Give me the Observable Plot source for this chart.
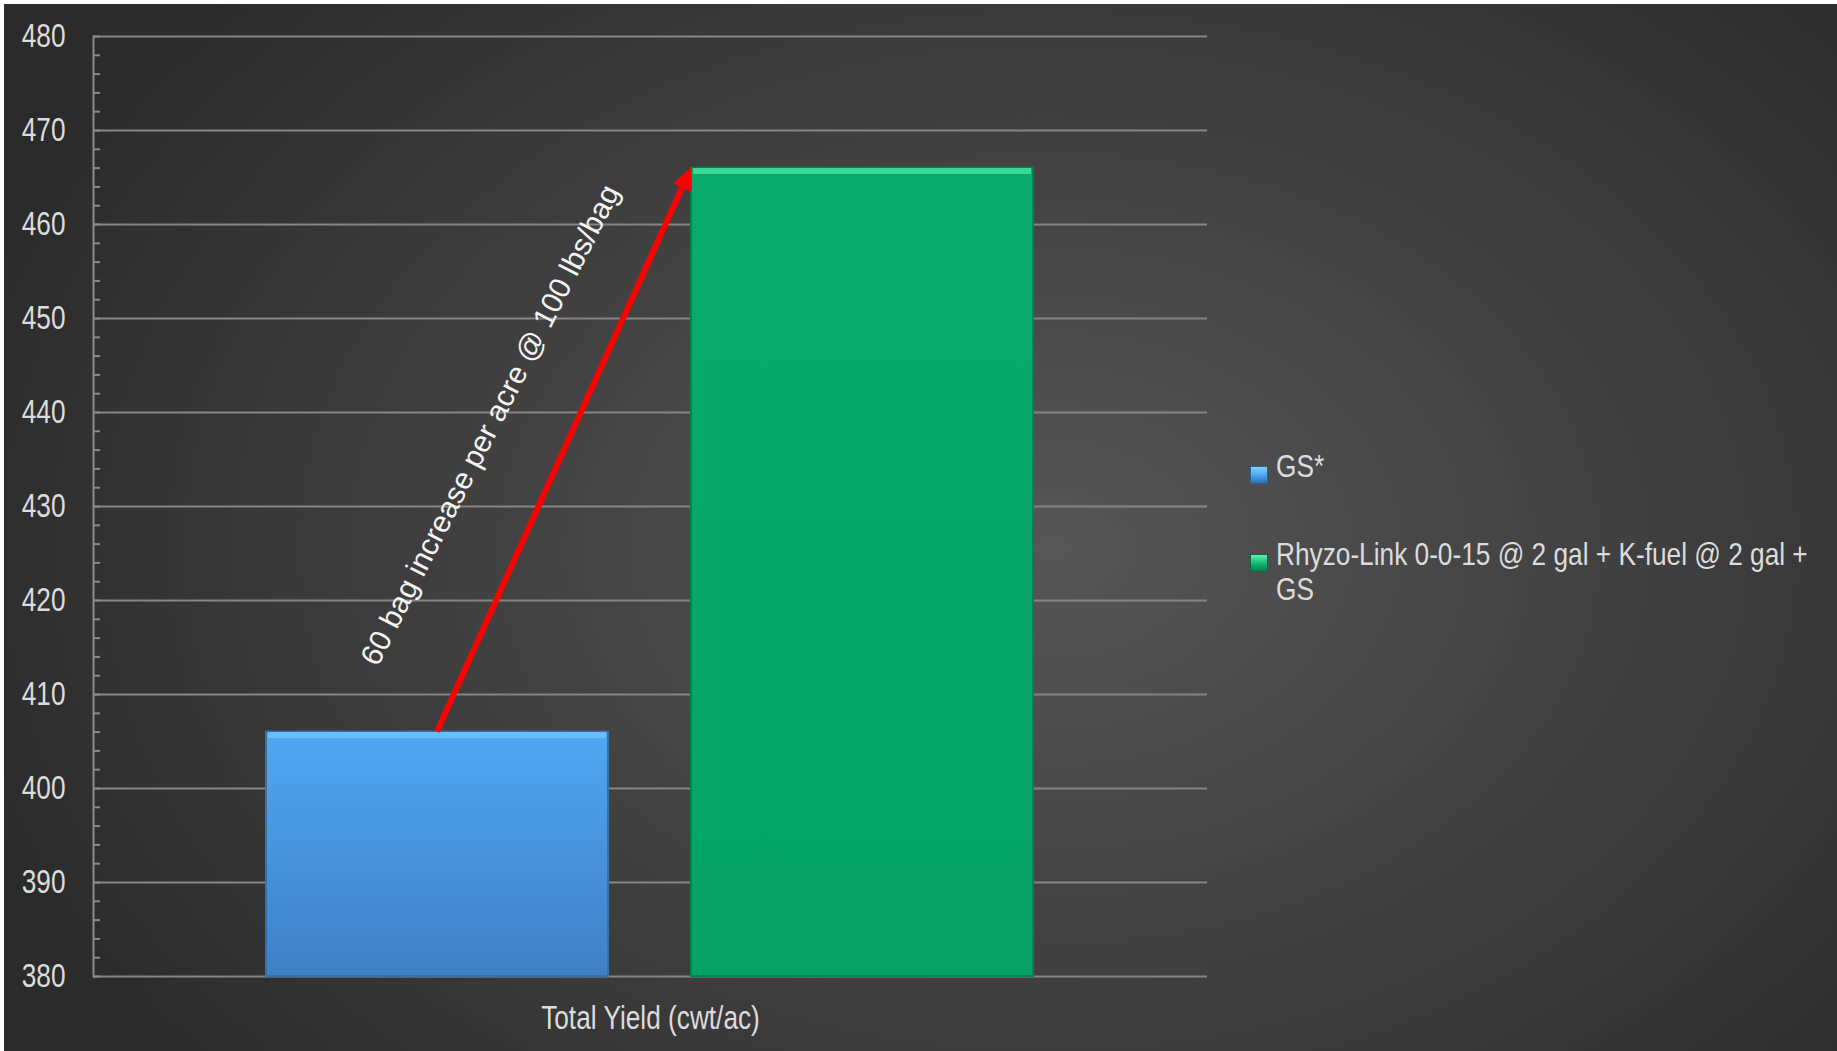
<!DOCTYPE html>
<html>
<head>
<meta charset="utf-8">
<script src="https://cdn.jsdelivr.net/npm/d3@7"></script>
<script src="https://cdn.jsdelivr.net/npm/@observablehq/plot@0.6"></script>
<style>
  html, body { margin: 0; padding: 0; background: #ffffff; width: 1837px; height: 1051px; overflow: hidden; }
  #bg { position: absolute; left: 4px; top: 4px; width: 1833px; height: 1047px;
        background: radial-gradient(ellipse 62% 78% at 57% 52%, #565656 0%, #474747 35%, #2b2b2b 100%); }
  #chart { position: absolute; left: 0; top: 0; }
  .legend { position: absolute; left: 1250px; font-family: "Liberation Sans", Arial, sans-serif;
            font-size: 32px; color: #dcdcdc; }
  .item { position: absolute; left: 0; display: flex; align-items: flex-start; }
  .sw { width: 18px; height: 18px; margin-right: 8px; box-sizing: border-box; flex: none; }
  .lbl { width: 665px; line-height: 35px; transform: scaleX(0.82); transform-origin: 0 0; }
</style>
</head>
<body>
<div id="bg"></div>
<div id="chart"></div>
<div class="legend" id="legend"></div>
<script>
// ---- data ----
const category = "Total Yield (cwt/ac)";
const series = ["GS*", "Rhyzo-Link 0-0-15 @ 2 gal + K-fuel @ 2 gal + GS"];
const values = [406, 466];
const yMajorTicks = [380, 390, 400, 410, 420, 430, 440, 450, 460, 470, 480];
const yMinorTicks = d3.range(380, 481, 2);
const annotation = "60 bag increase per acre @ 100 lbs/bag";

// ---- styling ----
const colors = ["url(#gBlue)", "url(#gGreen)"];
const edge = ["#3670ad", "#04824f"];
const hilite = ["#68bdfa", "#3bd797"];

const rows = series.map((s, i) => ({category, series: s, value: values[i], i}));

const arrowMark = (index, scales) => {
  const {x, y} = scales;
  const g = d3.create("svg:g");
  if (!x || !y) return g.node();
  const bw = x.bandwidth ? x.bandwidth() : 0;
  const x1 = x(series[0]) + bw / 2, y1 = y(values[0]);
  const x2 = x(series[1]), y2 = y(values[1]);
  const L = Math.hypot(x2 - x1, y2 - y1);
  const ux = (x2 - x1) / L, uy = (y2 - y1) / L;
  const head = 22, half = 10;
  const bx = x2 - ux * head, by = y2 - uy * head;
  g.append("line").attr("x1", x1).attr("y1", y1).attr("x2", bx).attr("y2", by)
    .attr("stroke", "#ff0000").attr("stroke-width", 6);
  g.append("polygon")
    .attr("points", [[x2, y2], [bx - uy * half, by + ux * half], [bx + uy * half, by - ux * half]].map(p => p.join(",")).join(" "))
    .attr("fill", "#ff0000");
  return g.node();
};

const chart = Plot.plot({
  width: 1837,
  height: 1051,
  marginLeft: 93,
  marginRight: 630,
  marginTop: 36,
  marginBottom: 75,
  style: {background: "transparent", fontFamily: "'Liberation Sans', Arial, sans-serif", fontSize: "32px", color: "#dcdcdc"},
  fx: {domain: [category], padding: 0, label: null, axis: "bottom", tickSize: 0, tickPadding: 28},
  x: {domain: series, paddingInner: 0.195, paddingOuter: 0.407, axis: null},
  y: {domain: [380, 480], clamp: true, axis: null},
  marks: [
    Plot.gridY(yMajorTicks, {stroke: "#858585", strokeOpacity: 1, strokeWidth: 2}),
    Plot.axisY(yMinorTicks, {tickSize: -7, text: null, label: null, stroke: "#8a8a8a", strokeWidth: 2}),
    Plot.axisY(yMajorTicks, {tickSize: 0, tickPadding: 28, label: null, fill: "#dcdcdc"}),
    Plot.frame({anchor: "left", stroke: "#8a8a8a", strokeWidth: 2}),
    Plot.barY(rows, {fx: "category", x: "series", y: "value", fill: d => colors[d.i], stroke: d => edge[d.i], strokeWidth: 2}),
    Plot.tickY(rows, {fx: "category", x: "series", y: "value", stroke: d => hilite[d.i], strokeWidth: 6, dy: 3, insetLeft: 2, insetRight: 2}),
    arrowMark,
    Plot.text([annotation], {x: () => series[0], y: () => d3.mean(values), text: d => d, rotate: -63, dx: 53, dy: -25,
      fill: "#f4f4f4", fontSize: 30, fontFamily: "'Liberation Sans', Arial, sans-serif", className: "annot"})
  ]
});

// gradients for bars
const defs = d3.select(chart).insert("defs", ":first-child");
const gb = defs.append("linearGradient").attr("id", "gBlue").attr("x1", 0).attr("y1", 0).attr("x2", 0).attr("y2", 1);
gb.append("stop").attr("offset", "0%").attr("stop-color", "#50a7f2");
gb.append("stop").attr("offset", "100%").attr("stop-color", "#3e80c4");
const gg = defs.append("linearGradient").attr("id", "gGreen").attr("x1", 0).attr("y1", 0).attr("x2", 0).attr("y2", 1);
gg.append("stop").attr("offset", "0%").attr("stop-color", "#08ab6c");
gg.append("stop").attr("offset", "100%").attr("stop-color", "#05a466");

// condensed look for axis texts (reference uses a narrow face)
d3.select(chart).selectAll("text").each(function () {
  if (this.closest(".annot")) return;
  const t = this.getAttribute("transform") || "";
  this.setAttribute("transform", t + " scale(0.82,1.06)");
});

document.getElementById("chart").append(chart);

// legend
const swatches = [
  "linear-gradient(180deg, #7fd0ff 0%, #4aa3ee 55%, #2f6fb0 100%)",
  "linear-gradient(180deg, #5ff0b0 0%, #0fb574 55%, #03804d 100%)"
];
const tops = [458, 546];
const legend = d3.select("#legend");
series.forEach((s, i) => {
  const it = legend.append("div").attr("class", "item").style("top", (tops[i] - 9) + "px");
  it.append("div").attr("class", "sw").style("background", swatches[i]).style("margin-top", "17px")
    .style("border", "1px solid " + (i ? "#036b40" : "#2a5f99"));
  it.append("div").attr("class", "lbl").text(s);
});
</script>
</body>
</html>
